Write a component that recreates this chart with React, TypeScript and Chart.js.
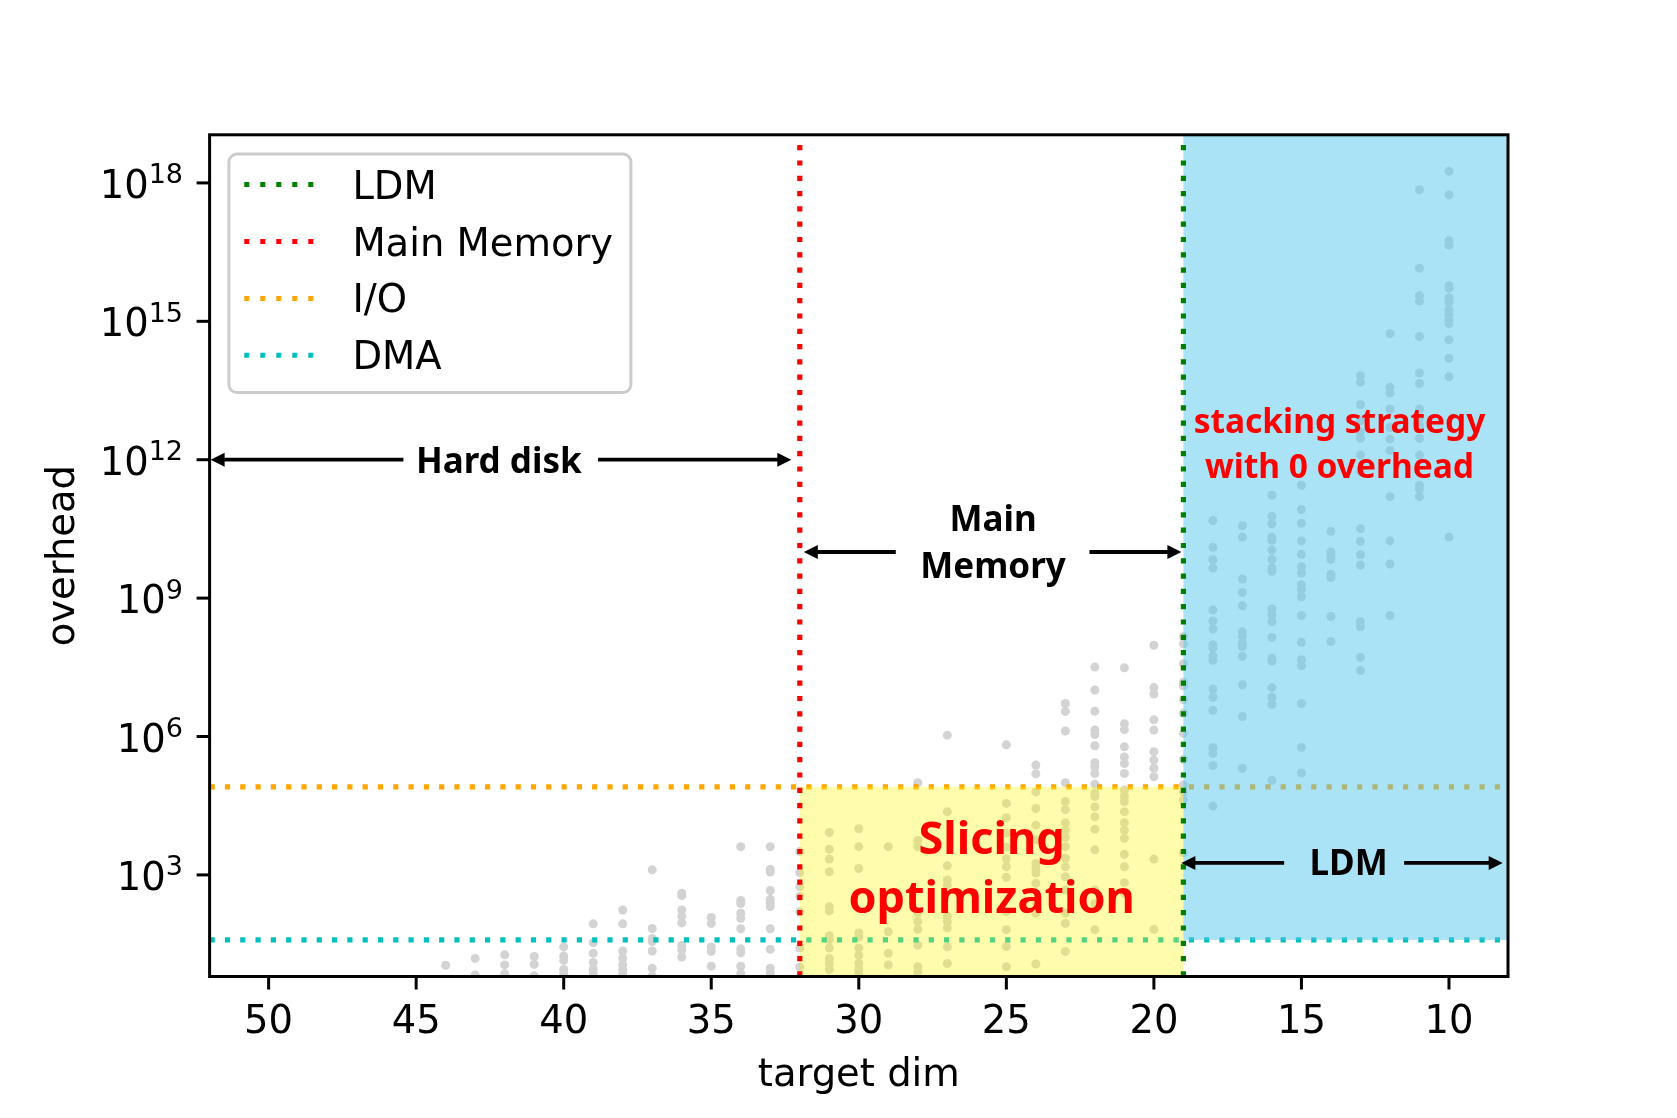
import React, { useEffect, useRef } from "react";
import { Chart, registerables } from "chart.js";

Chart.register(...registerables);

// ---------------- data ----------------
const DIMS: number[] = [44, 43, 42, 41, 40, 39, 38, 37, 36, 35, 34, 33, 32, 31, 30, 29, 28, 27, 25, 24, 23, 22, 21, 20, 19, 18, 17, 16, 15, 14, 13, 12, 11, 10];

const OVERHEAD: number[][] = [
  [1.1e1],
  [1.55e1, 6.8],
  [1.85e1, 1.12e1, 7.2],
  [1.7e1, 1.15e1, 6.5],
  [2.75e1, 1.75e1, 1.4e1, 8.9, 7.2],
  [8.7e1, 3.4e1, 2.0e1, 1.26e1, 8.9, 7.2],
  [1.74e2, 8.7e1, 2.24e1, 1.55e1, 1.12e1, 8.9, 7.2],
  [1.29e3, 6.9e1, 4.2e1, 3.6e1, 2.24e1, 9.5, 6.5],
  [4.0e2, 3.55e2, 1.74e2, 1.26e2, 9.1e1, 2.95e1, 2.35e1, 1.66e1],
  [1.2e2, 8.9e1, 2.75e1, 2.2e1, 1.05e1],
  [4.1e3, 2.8e2, 2.4e2, 1.48e2, 1.15e2, 6.8e1, 2.5e1, 2.05e1, 1.05e1, 7.2],
  [4.1e3, 1.32e3, 1.15e3, 4.6e2, 2.95e2, 2.5e2, 2.05e2, 6.8e1, 2.45e1, 9.5, 7.6],
  [3.2e3, 1.12e3, 5.5e2, 3.4e2, 1.6e2, 2.6e1, 1.0e1],
  [8.3e3, 3.6e3, 2.2e3, 1.17e3, 2.05e2, 1.66e2, 4.8e1, 3.9e1, 2.6e1, 1.55e1, 1.2e1, 8.9],
  [1.0e4, 4.1e3, 1.38e3, 5.5e1, 4.5e1, 2.6e1, 1.8e1, 1.2e1, 8.9, 6.8],
  [4.1e3, 5.9e1, 2.0e1, 1.12e1],
  [1.0e5, 5.6e3, 4.1e3, 1.48e2, 9.8e1, 6.6e1, 3.0e1, 1.02e1, 7.9],
  [1.07e6, 2.35e4, 1.58e3, 7.8e2, 6.0e2, 1.26e2, 9.8e1, 7.1e1, 2.75e1, 1.2e1],
  [6.6e5, 3.55e4, 1.74e4, 8.1e3, 4.0e3, 2.24e3, 1.5e3, 8.9e2, 1.6e2, 6.5e1, 2.8e1, 1.02e1],
  [2.4e5, 1.55e5, 6.3e4, 2.75e4, 1.2e4, 5.8e3, 1.78e3, 1.41e3, 1.1e3, 6.6e2, 2.6e2, 1.48e2, 1.17e1],
  [5.2e6, 3.5e6, 1.32e6, 1.0e5, 3.9e4, 2.6e4, 1.35e4, 9.3e3, 6.5e3, 4.1e3, 2.3e3, 1.5e3, 9.1e2, 4.7e2, 1.48e2, 8.9e1, 2.2e1],
  [3.2e7, 1.02e7, 3.55e6, 1.38e6, 1.1e6, 6.3e5, 2.7e5, 2.24e5, 1.58e5, 9.3e4, 5.9e4, 5.0e4, 3.0e4, 1.82e4, 9.8e3, 3.5e3, 4.7e2, 2.4e2, 6.5e1],
  [3.1e7, 1.9e6, 1.41e6, 6.0e5, 3.6e5, 2.6e5, 1.58e5, 6.9e4, 5.0e4, 3.9e4, 2.35e4, 1.35e4, 9.3e3, 6.2e3, 2.8e3, 1.5e3, 6.8e2, 4.0e2],
  [9.5e7, 1.15e7, 8.3e6, 2.3e6, 1.38e6, 4.7e5, 3.1e5, 2.05e5, 1.35e5, 2.2e3, 6.6e1],
  [1.45e8, 1.02e8, 3.8e7, 1.5e7, 1.26e7, 6.3e6, 3.2e6, 1.17e6, 3.2e5, 8.9e4, 6.3e4, 4.2e4, 3.0e3],
  [4.8e10, 1.26e10, 6.8e9, 4.5e9, 5.5e8, 3.2e8, 2.15e8, 9.8e7, 8.3e7, 5.5e7, 4.5e7, 1.07e7, 7.1e6, 3.7e6, 5.8e5, 4.3e5, 2.35e5, 3.1e4],
  [3.7e10, 2.1e10, 2.6e9, 1.32e9, 6.8e8, 1.86e8, 1.5e8, 1.05e8, 8.9e7, 5.5e7, 1.32e7, 2.7e6, 2.05e5],
  [1.7e11, 5.9e10, 4.1e10, 2.1e10, 1.8e10, 1.1e10, 6.9e9, 4.5e9, 3.8e9, 5.8e8, 4.3e8, 3.1e8, 1.41e8, 5.0e7, 4.3e7, 1.15e7, 7.1e6, 5.0e6, 1.12e5],
  [2.8e11, 8.3e10, 4.2e10, 1.74e10, 8.9e9, 4.8e9, 3.5e9, 1.95e9, 1.55e9, 1.07e9, 4.2e8, 1.1e8, 4.6e7, 3.4e7, 5.2e6, 5.8e5, 1.62e5],
  [2.8e10, 1.0e10, 8.1e9, 6.9e9, 3.3e9, 2.8e9, 4.0e8, 1.15e8],
  [6.6e13, 4.8e13, 1.55e13, 7.1e12, 4.0e12, 2.9e12, 1.26e12, 5.5e11, 3.2e10, 1.7e10, 8.7e9, 5.2e9, 3.1e8, 2.4e8, 5.2e7, 2.7e7],
  [5.4e14, 3.7e13, 2.8e13, 1.26e13, 5.0e12, 2.8e12, 1.58e12, 1.58e11, 1.74e10, 5.5e9, 4.2e8],
  [7.1e17, 1.41e16, 3.6e15, 2.75e15, 4.7e14, 7.6e13, 4.5e13, 1.26e13, 7.9e12, 5.5e12, 2.9e12, 1.26e12, 2.8e11, 2.3e11, 1.58e11],
  [1.78e18, 5.5e17, 5.6e16, 4.5e16, 5.9e15, 5.2e15, 3.2e15, 2.6e15, 1.78e15, 1.35e15, 1.07e15, 8.9e14, 4.0e14, 1.58e14, 6.3e13, 2.1e10],
];

const IO_LEVEL = 8.1e4;
const DMA_LEVEL = 3.9e1;
const MAIN_MEMORY_DIM = 32;
const LDM_DIM = 19;

const X_MIN = 8;
const X_MAX = 52;
const Y_MIN = 6.28;
const Y_MAX = 1.104e19;

const Y_TICK_VALUES = [1e3, 1e6, 1e9, 1e12, 1e15, 1e18];
const Y_TICK_EXPONENTS = ["3", "6", "9", "12", "15", "18"];

const LEGEND_LABELS = ["LDM", "Main Memory", "I/O", "DMA"];
const LEGEND_COLORS = ["#008000", "#ff0000", "#ffa500", "#00bfbf"];

const X_TITLE = "target dim";
const Y_TITLE = "overhead";

// annotation anchors (data coords)
const HARD_DISK_AT = { x: 42.2, y: 1e12 };
const MAIN_MEM_AT = { x: 25.45, y: 1e10 };
const LDM_AT = { x: 13.4, y: 1.82e3 };
const STACKING_AT = { x: 13.71, y: 2.5e12 };
const SLICING_AT = { x: 25.5, y: 1e3 };

// ---------------- layout ----------------
const W = 1677;
const H = 1118;
const PLOT = { left: 209.6, right: 1508, top: 134.8, bottom: 976.5 };
const TICK_FONT = '38.5px "DejaVu Sans"';
const SUP_FONT = '27px "DejaVu Sans"';
const ANN_FONT = 'bold 35px "Noto Sans", "Open Sans", sans-serif';
const RED_FONT = 'bold 33.5px "Noto Sans", "Open Sans", sans-serif';
const BIG_FONT = 'bold 45px "Noto Sans", "Open Sans", sans-serif';
const LINE_W = 5.2;
const DASH = [5.2, 10.1];

function arrow(ctx: CanvasRenderingContext2D, tailX: number, tipX: number, y: number) {
  const dir = tipX > tailX ? 1 : -1;
  const headLen = 14;
  const headHalf = 7;
  ctx.beginPath();
  ctx.moveTo(tailX, y);
  ctx.lineTo(tipX - dir * headLen * 0.8, y);
  ctx.stroke();
  ctx.beginPath();
  ctx.moveTo(tipX, y);
  ctx.lineTo(tipX - dir * headLen, y - headHalf);
  ctx.lineTo(tipX - dir * headLen, y + headHalf);
  ctx.closePath();
  ctx.fill();
}

const overlayPlugin = {
  id: "overlay",
  afterDatasetDraw(chart: any, args: any) {
    if (args.index !== 2) return;
    const { ctx, chartArea: ca } = chart;
    const xs = chart.scales.x;
    const ys = chart.scales.y;
    const xMM = xs.getPixelForValue(MAIN_MEMORY_DIM);
    const xLDM = xs.getPixelForValue(LDM_DIM);
    const yIO = ys.getPixelForValue(IO_LEVEL);
    const yDMA = ys.getPixelForValue(DMA_LEVEL);
    ctx.save();
    ctx.beginPath();
    ctx.rect(ca.left, ca.top, ca.right - ca.left, ca.bottom - ca.top);
    ctx.clip();
    ctx.fillStyle = "rgba(255,250,0,0.33)";
    ctx.fillRect(xMM, yIO, xLDM - xMM, ca.bottom - yIO);
    ctx.fillStyle = "rgba(87,199,237,0.5)";
    ctx.fillRect(xLDM, ca.top, ca.right - xLDM, yDMA - ca.top);
    ctx.restore();
  },
  afterDraw(chart: any) {
    const { ctx, chartArea: ca } = chart;
    const xs = chart.scales.x;
    const ys = chart.scales.y;
    ctx.save();

    // frame
    ctx.strokeStyle = "#000";
    ctx.lineWidth = 3;
    ctx.strokeRect(ca.left, ca.top, ca.right - ca.left, ca.bottom - ca.top);

    // x ticks
    ctx.fillStyle = "#000";
    ctx.font = TICK_FONT;
    ctx.textAlign = "center";
    ctx.textBaseline = "alphabetic";
    for (const t of xs.ticks) {
      const px = xs.getPixelForValue(t.value);
      ctx.beginPath();
      ctx.moveTo(px, ca.bottom);
      ctx.lineTo(px, ca.bottom + 13);
      ctx.stroke();
      ctx.fillText(String(t.value), px, ca.bottom + 56);
    }

    // y ticks
    ys.ticks.forEach((t: any, i: number) => {
      const py = ys.getPixelForValue(t.value);
      ctx.beginPath();
      ctx.moveTo(ca.left - 13, py);
      ctx.lineTo(ca.left, py);
      ctx.stroke();
      const right = ca.left - 26.6;
      ctx.textAlign = "right";
      ctx.font = SUP_FONT;
      const exp = Y_TICK_EXPONENTS[i];
      const ew = ctx.measureText(exp).width;
      ctx.fillText(exp, right, py + 0.5);
      ctx.font = TICK_FONT;
      ctx.fillText("10", right - ew, py + 15);
    });

    // axis titles
    ctx.font = TICK_FONT;
    ctx.textAlign = "center";
    ctx.fillText(X_TITLE, (ca.left + ca.right) / 2, 1086);
    ctx.save();
    ctx.translate(74, (ca.top + ca.bottom) / 2);
    ctx.rotate(-Math.PI / 2);
    ctx.fillText(Y_TITLE, 0, 0);
    ctx.restore();

    // annotations
    ctx.lineWidth = 3.8;
    ctx.strokeStyle = "#000";
    ctx.fillStyle = "#000";
    ctx.font = ANN_FONT;
    ctx.textAlign = "center";
    const xMM = xs.getPixelForValue(MAIN_MEMORY_DIM);
    const xLDM = xs.getPixelForValue(LDM_DIM);

    // Hard disk
    {
      const c = xs.getPixelForValue(HARD_DISK_AT.x);
      const y = ys.getPixelForValue(HARD_DISK_AT.y);
      arrow(ctx, c - 95.4, xs.getPixelForValue(X_MAX) + 1, y);
      arrow(ctx, c + 99.3, xMM - 8.5, y);
      ctx.fillText("Hard disk", c, y + 13.4);
    }
    // Main Memory
    {
      const c = xs.getPixelForValue(MAIN_MEM_AT.x);
      const y = ys.getPixelForValue(MAIN_MEM_AT.y);
      arrow(ctx, c - 97.3, xMM + 4, y);
      arrow(ctx, c + 96.4, xLDM - 2, y);
      ctx.fillText("Main", c, y - 21);
      ctx.fillText("Memory", c, y + 26.5);
    }
    // LDM
    {
      const c = xs.getPixelForValue(LDM_AT.x);
      const y = ys.getPixelForValue(LDM_AT.y);
      arrow(ctx, c - 64.5, xLDM - 2, y);
      arrow(ctx, c + 55.5, xs.getPixelForValue(X_MIN) - 5.3, y);
      ctx.fillText("LDM", c, y + 12.5);
    }
    // stacking strategy
    {
      const c = xs.getPixelForValue(STACKING_AT.x);
      const y = ys.getPixelForValue(STACKING_AT.y);
      ctx.fillStyle = "#ff0000";
      ctx.font = RED_FONT;
      ctx.fillText("stacking strategy", c, y - 8.1);
      ctx.fillText("with 0 overhead", c, y + 36.9);
    }
    // Slicing optimization
    {
      const c = xs.getPixelForValue(SLICING_AT.x);
      const y = ys.getPixelForValue(SLICING_AT.y);
      ctx.fillStyle = "#ff0000";
      ctx.font = BIG_FONT;
      ctx.fillText("Slicing", c, y - 20.9);
      ctx.fillText("optimization", c, y + 38.4);
    }

    // legend
    const lx = ca.left + 19.3;
    const ly = ca.top + 19.3;
    const lw = 402;
    const lh = 238.5;
    ctx.beginPath();
    ctx.roundRect(lx, ly, lw, lh, 8);
    ctx.fillStyle = "#ffffff";
    ctx.fill();
    ctx.strokeStyle = "#cccccc";
    ctx.lineWidth = 3;
    ctx.stroke();
    ctx.font = TICK_FONT;
    ctx.textAlign = "left";
    LEGEND_LABELS.forEach((lab, i) => {
      const cy = ly + 30.5 + 56.9 * i;
      ctx.save();
      ctx.strokeStyle = LEGEND_COLORS[i];
      ctx.lineWidth = 5;
      ctx.setLineDash([5, 11]);
      ctx.beginPath();
      ctx.moveTo(lx + 15.4, cy);
      ctx.lineTo(lx + 92.4, cy);
      ctx.stroke();
      ctx.restore();
      ctx.fillStyle = "#000";
      ctx.fillText(lab, lx + 123.5, cy + 14);
    });

    ctx.restore();
  },
};

export default function App() {
  const canvasRef = useRef<HTMLCanvasElement | null>(null);

  useEffect(() => {
    const canvas = canvasRef.current;
    if (!canvas) return;
    const points = DIMS.flatMap((d, i) => OVERHEAD[i].map((v) => ({ x: d, y: v })));
    const lineDs = (data: any[], color: string, order: number) => ({
      data,
      showLine: true,
      borderColor: color,
      borderWidth: LINE_W,
      borderDash: DASH,
      borderCapStyle: "butt",
      pointRadius: 0,
      order,
      clip: 0,
    });
    const chart = new Chart(canvas, {
      type: "scatter",
      data: {
        datasets: [
          {
            data: points,
            pointRadius: 4.5,
            pointBackgroundColor: "#d3d3d3",
            pointBorderWidth: 0,
            borderWidth: 0,
            order: 5,
            clip: 0,
          } as any,
          lineDs([{ x: X_MAX, y: IO_LEVEL }, { x: X_MIN, y: IO_LEVEL }], LEGEND_COLORS[2], 4),
          lineDs([{ x: X_MAX, y: DMA_LEVEL }, { x: X_MIN, y: DMA_LEVEL }], LEGEND_COLORS[3], 3),
          lineDs([{ x: MAIN_MEMORY_DIM, y: Y_MIN }, { x: MAIN_MEMORY_DIM, y: Y_MAX }], LEGEND_COLORS[1], 2),
          lineDs([{ x: LDM_DIM, y: Y_MIN }, { x: LDM_DIM, y: Y_MAX }], LEGEND_COLORS[0], 1),
        ],
      },
      options: {
        animation: false,
        responsive: false,
        devicePixelRatio: 1,
        events: [],
        layout: { padding: { left: 0, top: PLOT.top, right: W - PLOT.right, bottom: 0 } },
        plugins: {
          legend: { display: false },
          tooltip: { enabled: false },
          title: { display: false },
        },
        scales: {
          x: {
            type: "linear",
            position: "bottom",
            reverse: true,
            min: X_MIN,
            max: X_MAX,
            ticks: { display: false, stepSize: 5, includeBounds: false },
            grid: { display: false },
            border: { display: false },
            afterFit: (s: any) => {
              s.height = H - PLOT.bottom;
            },
          },
          y: {
            type: "logarithmic",
            position: "left",
            min: Y_MIN,
            max: Y_MAX,
            ticks: { display: false },
            grid: { display: false },
            border: { display: false },
            afterBuildTicks: (s: any) => {
              s.ticks = Y_TICK_VALUES.map((v) => ({ value: v }));
            },
            afterFit: (s: any) => {
              s.width = PLOT.left;
            },
          },
        },
      } as any,
      plugins: [overlayPlugin as any],
    });
    return () => chart.destroy();
  }, []);

  return (
    <div style={{ position: "fixed", left: 0, top: 0, width: W, height: H, background: "#fff" }}>
      <canvas ref={canvasRef} width={W} height={H} style={{ display: "block", width: W, height: H }} />
    </div>
  );
}
